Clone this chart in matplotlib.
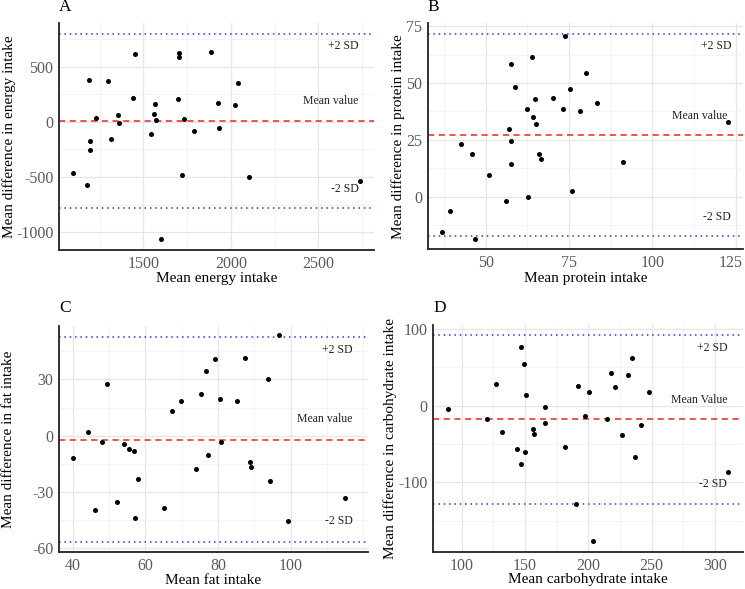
import matplotlib
matplotlib.use("Agg")
import matplotlib.pyplot as plt
import matplotlib.transforms as mtransforms
from matplotlib.ticker import MultipleLocator

plt.rcParams['font.family'] = ['Liberation Serif', 'DejaVu Serif']
plt.rcParams['axes.unicode_minus'] = False

# ---- Data ----
energy_x = [1100, 1176, 1191, 1193, 1195, 1231, 1296, 1313, 1353, 1363, 1443, 1452, 1542, 1563, 1567,
            1572, 1603, 1696, 1706, 1706, 1721, 1734, 1790, 1887, 1927, 1931, 2022, 2039, 2106, 2736]
energy_y = [-464, -575, 383, -172, -256, 39, 370, -154, 60, -12, 217, 617, -111, 69, 166,
            15, -1063, 208, 620, 584, -482, 30, -84, 636, 169, -57, 157, 355, -503, -536]
energy_lines = [8, 798, -783]  # mean, +2SD, -2SD

protein_x = [36.8, 39.4, 42.6, 45.9, 46.9, 51.1, 56.1, 56.9, 57.5, 57.6, 57.7, 58.9, 62.4, 62.8, 63.8,
             64.3, 64.8, 65.1, 66.1, 66.6, 70.2, 73.2, 73.9, 75.4, 75.9, 78.2, 80.1, 83.5, 91.2, 122.8]
protein_y = [-15.6, -6.1, 23.4, 19.0, -18.6, 9.8, -2.0, 29.8, 24.7, 14.3, 58.2, 48.1, 38.7, 0.0, 61.5,
             35.0, 43.0, 32.2, 19.0, 16.8, 43.4, 38.6, 70.6, 47.4, 2.5, 37.9, 54.5, 41.2, 15.4, 32.8]
protein_lines = [27.0, 71.6, -17.3]

fat_x = [40.0, 44.2, 46.2, 48.1, 49.4, 52.1, 54.0, 55.4, 56.8, 57.2, 57.9, 65.2, 67.3, 69.7, 74.0,
         75.3, 76.6, 77.1, 79.2, 80.6, 80.9, 85.3, 87.5, 88.9, 89.0, 93.8, 94.2, 96.9, 99.3, 114.9]
fat_y = [-12.1, 1.8, -39.4, -3.2, 27.5, -35.2, -4.3, -7.1, -8.3, -43.7, -23.1, -38.3, 13.0, 18.5, -17.8,
         22.0, 34.6, -10.5, 40.8, 19.7, -3.4, 18.5, 41.5, -14.0, -16.7, 30.2, -24.0, 53.6, -45.6, -33.0]
fat_lines = [-2.1, 52.5, -56.5]

carb_x = [88.9, 119.7, 127.1, 131.6, 143.7, 147.1, 147.1, 148.9, 150.3, 151.1, 156.6, 157.4, 165.8, 166.1, 181.8,
          190.0, 191.8, 197.4, 200.5, 203.9, 214.5, 217.6, 220.8, 226.3, 231.3, 234.5, 237.1, 241.8, 248.2, 310.5]
carb_y = [-4.3, -17.8, 27.8, -33.9, -56.5, 76.5, -75.7, 53.9, -60.9, 13.5, -30.4, -37.0, -1.7, -22.2, -53.5,
          -128.3, 25.7, -13.9, 18.3, -177.0, -17.8, 42.2, 24.3, -38.7, 39.6, 62.6, -67.0, -24.8, 18.3, -87.0]
carb_lines = [-17.8, 92.2, -128.3]

panel_letters = ["A", "B", "C", "D"]
x_labels = ["Mean energy intake", "Mean protein intake", "Mean fat intake", "Mean carbohydrate intake"]
y_labels = ["Mean difference in energy intake", "Mean difference in protein intake",
            "Mean difference in fat intake", "Mean difference in carbohydrate intake"]
mean_texts = ["Mean value", "Mean value", "Mean value", "Mean Value"]

W, H = 745, 589
fig = plt.figure(figsize=(W / 100, H / 100), dpi=100)

def rect(l, r, t, b):
    return [l / W, (H - b) / H, (r - l) / W, (b - t) / H]

panels = [
    dict(rect=rect(59, 374, 23, 250), x=energy_x, y=energy_y, lines=energy_lines,
         xlim=(1018, 2818), ylim=(-1160, 895), xmaj=500, xmin=250, ymaj=500, ymin=250,
         xticks=[1500, 2000, 2500],
         txt=[(2643, 684, "+2 SD"), (2572, 187, None), (2652, -608, "-2 SD")],
         letter=(65, 7), ylab_x=9, xlab_y=279),
    dict(rect=rect(428, 742.7, 23.3, 249.3), x=protein_x, y=protein_y, lines=protein_lines,
         xlim=(32.7, 127.1), ylim=(-23.0, 76.2), xmaj=25, xmin=12.5, ymaj=25, ymin=12.5,
         xticks=[50, 75, 100, 125],
         txt=[(119.3, 66.4, "+2 SD"), (114.1, 35.7, None), (119.3, -8.9, "-2 SD")],
         letter=(433, 7), ylab_x=398, xlab_y=279),
    dict(rect=rect(59, 367.7, 326, 552.3), x=fat_x, y=fat_y, lines=fat_lines,
         xlim=(36.2, 121.2), ylim=(-62.1, 58.4), xmaj=20, xmin=10, ymaj=30, ymin=15,
         xticks=[40, 60, 80, 100],
         txt=[(112.8, 45.6, "+2 SD"), (109.4, 8.7, None), (113.3, -45.4, "-2 SD")],
         letter=(65, 308), ylab_x=9, xlab_y=581),
    dict(rect=rect(433.3, 742.7, 325, 552.3), x=carb_x, y=carb_y, lines=carb_lines,
         xlim=(77.6, 321.8), ylim=(-191.3, 105.2), xmaj=50, xmin=25, ymaj=100, ymin=50,
         xticks=[100, 150, 200, 250, 300],
         txt=[(297.9, 75.7, "+2 SD"), (287.6, 7.4, None), (298.7, -102.2, "-2 SD")],
         letter=(440, 308), ylab_x=390, xlab_y=580),
]

for i, p in enumerate(panels):
    ax = fig.add_axes(p["rect"])
    ax.set_xlim(*p["xlim"])
    ax.set_ylim(*p["ylim"])
    ax.xaxis.set_major_locator(MultipleLocator(p["xmaj"]))
    ax.xaxis.set_minor_locator(MultipleLocator(p["xmin"]))
    ax.yaxis.set_major_locator(MultipleLocator(p["ymaj"]))
    ax.yaxis.set_minor_locator(MultipleLocator(p["ymin"]))
    ax.grid(which="major", color="#E6E6E6", lw=0.9, zorder=0)
    ax.grid(which="minor", color="#F1F1F1", lw=0.6, zorder=0)
    ax.set_axisbelow(True)
    for s in ["top", "right"]:
        ax.spines[s].set_visible(False)
    for s in ["left", "bottom"]:
        ax.spines[s].set_linewidth(1.3)
        ax.spines[s].set_color("#222222")
    ax.tick_params(which="both", length=0, labelsize=11.5, labelcolor="#5A5A5A", pad=4)
    ax.set_xticks(p["xticks"])

    mean, up, lo = p["lines"]
    ax.axhline(mean, color="#F02020", ls=(0, (4, 3)), lw=1.1, zorder=2)
    ax.axhline(up, color="#3030F0", ls=(0, (1, 2.5)), lw=1.1, zorder=2)
    ax.axhline(lo, color="#3030F0", ls=(0, (1, 2.5)), lw=1.1, zorder=2)

    ax.scatter(p["x"], p["y"], s=13, color="black", zorder=3, linewidths=0)

    for (tx, ty, t) in p["txt"]:
        label = mean_texts[i] if t is None else t
        ax.text(tx, ty, label, ha="center", va="center", fontsize=8.5, color="#222222", zorder=4)

    if i == 1:
        # keep the last tick label inside the figure
        last = ax.get_xticklabels()[-1]
        last.set_transform(last.get_transform() +
                           mtransforms.ScaledTranslation(-5 / 100, 0, fig.dpi_scale_trans))

    lx, ly = p["letter"]
    fig.text(lx / W, 1 - ly / H, panel_letters[i], ha="center", va="center", fontsize=12.5)
    fig.text(p["ylab_x"] / W, (p["rect"][1] + p["rect"][3] / 2), y_labels[i], rotation=90,
             ha="center", va="center", fontsize=11)
    fig.text((p["rect"][0] + p["rect"][2] / 2), 1 - p["xlab_y"] / H, x_labels[i],
             ha="center", va="center", fontsize=11)

fig.savefig("out.png", dpi=100, facecolor="white")
